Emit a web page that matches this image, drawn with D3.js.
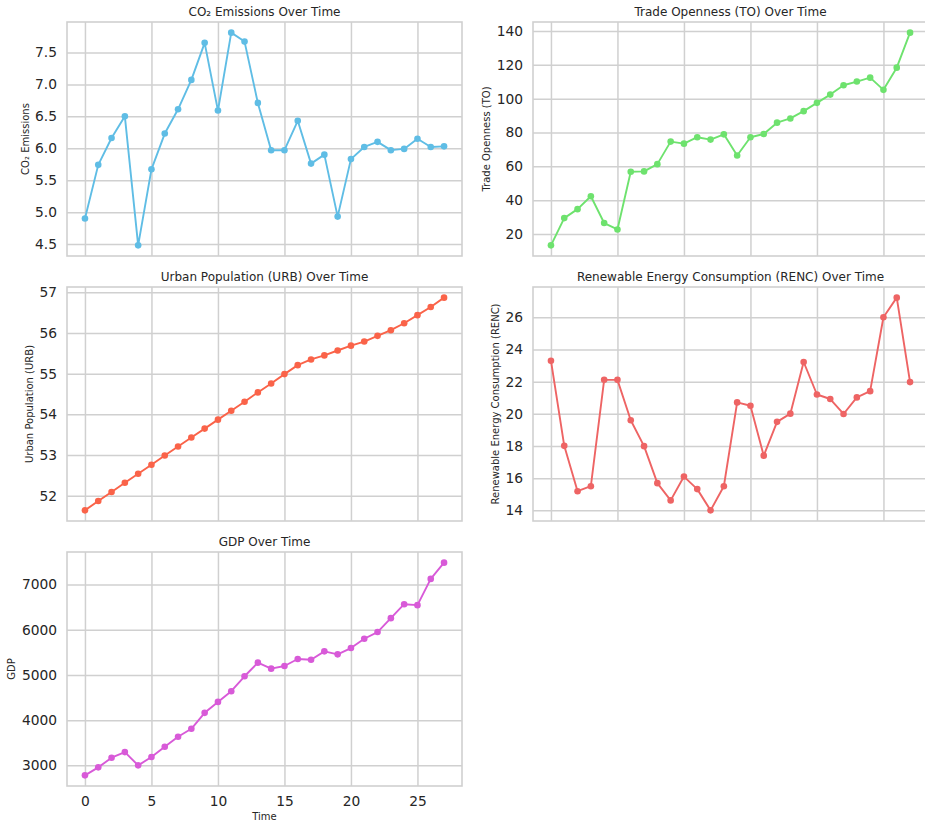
<!DOCTYPE html>
<html>
<head>
<meta charset="utf-8">
<script src="https://cdn.jsdelivr.net/npm/d3@7"></script>
<style>
  html, body { margin: 0; padding: 0; background: #ffffff; }
  svg { display: block; font-family: "DejaVu Sans", sans-serif; }
</style>
</head>
<body>
<svg id="chart" width="925" height="821"></svg>
<script>
// Time index shared by every panel
const time = [0, 1, 2, 3, 4, 5, 6, 7, 8, 9, 10, 11, 12, 13, 14, 15, 16, 17, 18, 19, 20, 21, 22, 23, 24, 25, 26, 27];
const timeTicks = [0, 5, 10, 15, 20, 25];

// Series
const co2 = [4.90, 5.74, 6.16, 6.50, 4.48, 5.67, 6.23, 6.61, 7.07, 7.65, 6.59, 7.81, 7.67, 6.71,
             5.97, 5.97, 6.43, 5.76, 5.90, 4.93, 5.83, 6.02, 6.10, 5.97, 5.99, 6.15, 6.02, 6.03];
const tradeOpenness = [13.3, 29.4, 34.7, 42.3, 26.5, 22.7, 56.8, 57.0, 61.3, 74.6, 73.4, 77.2, 75.8, 78.9,
                       66.4, 77.2, 79.1, 85.8, 88.3, 92.6, 97.5, 102.4, 107.9, 110.1, 112.4, 105.2, 118.3, 139.0];
const urbanPop = [51.64, 51.87, 52.09, 52.32, 52.54, 52.76, 52.99, 53.21, 53.43, 53.65, 53.87, 54.09, 54.31, 54.54,
                  54.76, 54.99, 55.21, 55.35, 55.45, 55.57, 55.69, 55.79, 55.93, 56.07, 56.24, 56.44, 56.64, 56.87];
const renewable = [23.30, 18.01, 15.19, 15.50, 22.11, 22.11, 19.60, 17.99, 15.69, 14.62, 16.10, 15.32, 14.00, 15.50,
                   20.71, 20.50, 17.40, 19.50, 20.01, 23.22, 21.20, 20.92, 19.99, 21.02, 21.41, 26.00, 27.22, 21.97];
const gdp = [2779, 2956, 3169, 3294, 3000, 3184, 3412, 3632, 3809, 4162, 4404, 4640, 4971, 5272,
             5140, 5199, 5353, 5338, 5522, 5456, 5596, 5801, 5949, 6257, 6566, 6544, 7125, 7485];

// Tick values per panel
const co2Ticks = [4.5, 5.0, 5.5, 6.0, 6.5, 7.0, 7.5];
const toTicks = [20, 40, 60, 80, 100, 120, 140];
const urbTicks = [52, 53, 54, 55, 56, 57];
const rencTicks = [14, 16, 18, 20, 22, 24, 26];
const gdpTicks = [3000, 4000, 5000, 6000, 7000];

// Panel definitions (grid cell, titles, colours)
const panels = [
  { values: co2, ticks: co2Ticks, fmt: d3.format(".1f"), col: 0, row: 0,
    title: "CO\u2082 Emissions Over Time", ylabel: "CO\u2082 Emissions", color: "#5fbde5" },
  { values: tradeOpenness, ticks: toTicks, fmt: d3.format("d"), col: 1, row: 0,
    title: "Trade Openness (TO) Over Time", ylabel: "Trade Openness (TO)", color: "#6ee26e" },
  { values: urbanPop, ticks: urbTicks, fmt: d3.format("d"), col: 0, row: 1,
    title: "Urban Population (URB) Over Time", ylabel: "Urban Population (URB)", color: "#fa6349" },
  { values: renewable, ticks: rencTicks, fmt: d3.format("d"), col: 1, row: 1,
    title: "Renewable Energy Consumption (RENC) Over Time", ylabel: "Renewable Energy Consumption (RENC)", color: "#ee6464" },
  { values: gdp, ticks: gdpTicks, fmt: d3.format("d"), col: 0, row: 2,
    title: "GDP Over Time", ylabel: "GDP", color: "#d85ad8", showX: true }
];

const colLeft = [67, 533];
const rowTop = [22, 287, 552];
const W = 395, H = 234;
const gridColor = "#d0d0d0";
const textColor = "#262626";

const svg = d3.select("#chart");

// matplotlib-style 5% margins around the data range
function padded(ext) {
  const m = (ext[1] - ext[0]) * 0.05;
  return [ext[0] - m, ext[1] + m];
}

const x = d3.scaleLinear().domain(padded(d3.extent(time))).range([0, W]);

panels.forEach(p => {
  const g = svg.append("g").attr("transform", `translate(${colLeft[p.col]},${rowTop[p.row]})`);
  const y = d3.scaleLinear().domain(padded(d3.extent(p.values))).range([H, 0]);

  // vertical grid
  g.append("g")
    .call(d3.axisBottom(x).tickValues(timeTicks).tickSize(-H).tickFormat(""))
    .attr("transform", `translate(0,${H})`)
    .call(a => a.select(".domain").remove())
    .call(a => a.selectAll("line").attr("stroke", gridColor).attr("stroke-width", 1.5));

  // horizontal grid + y tick labels
  const ya = g.append("g")
    .call(d3.axisLeft(y).tickValues(p.ticks).tickSize(-W).tickFormat(p.fmt).tickPadding(10))
    .call(a => a.select(".domain").remove())
    .call(a => a.selectAll("line").attr("stroke", gridColor).attr("stroke-width", 1.5));
  ya.selectAll("text")
    .attr("font-family", "DejaVu Sans, sans-serif")
    .attr("font-size", 13.8)
    .attr("fill", textColor);

  // frame
  g.append("rect")
    .attr("width", W).attr("height", H)
    .attr("fill", "none").attr("stroke", gridColor).attr("stroke-width", 1.6);

  // line + markers
  const line = d3.line().x((d, i) => x(time[i])).y(d => y(d));
  g.append("path")
    .datum(p.values)
    .attr("d", line)
    .attr("fill", "none")
    .attr("stroke", p.color)
    .attr("stroke-width", 1.9)
    .attr("stroke-linejoin", "round");
  g.append("g").selectAll("circle")
    .data(p.values)
    .join("circle")
    .attr("cx", (d, i) => x(time[i]))
    .attr("cy", d => y(d))
    .attr("r", 3.3)
    .attr("fill", p.color);

  // title
  g.append("text")
    .attr("x", W / 2).attr("y", -6)
    .attr("text-anchor", "middle")
    .attr("font-size", 12)
    .attr("fill", textColor)
    .text(p.title);

  // y label placed just left of the tick labels
  let minX = 0;
  ya.selectAll("text").each(function () {
    minX = Math.min(minX, this.getBBox().x);
  });
  g.append("text")
    .attr("transform", `translate(${minX - 10},${H / 2}) rotate(-90)`)
    .attr("text-anchor", "middle")
    .attr("dy", "0.35em")
    .attr("font-size", 10)
    .attr("fill", textColor)
    .text(p.ylabel);

  // x axis labels on the bottom panel only
  if (p.showX) {
    const xa = g.append("g")
      .attr("transform", `translate(0,${H})`)
      .call(d3.axisBottom(x).tickValues(timeTicks).tickSize(0).tickPadding(10).tickFormat(d3.format("d")))
      .call(a => a.select(".domain").remove());
    xa.selectAll("text")
      .attr("font-family", "DejaVu Sans, sans-serif")
      .attr("font-size", 13.8)
      .attr("fill", textColor);
    g.append("text")
      .attr("x", W / 2).attr("y", H + 34)
      .attr("text-anchor", "middle")
      .attr("font-size", 10)
      .attr("fill", textColor)
      .text("Time");
  }
});
</script>
</body>
</html>
